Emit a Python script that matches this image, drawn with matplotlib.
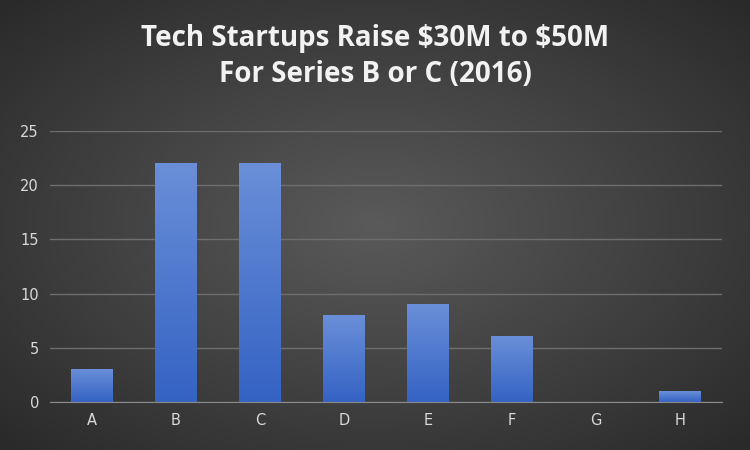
import numpy as np
import matplotlib
matplotlib.use("Agg")
import matplotlib.pyplot as plt
from matplotlib.colors import LinearSegmentedColormap

categories = ["A", "B", "C", "D", "E", "F", "G", "H"]
values = [3, 22, 22, 8, 9, 6, 0, 1]
yticks = [0, 5, 10, 15, 20, 25]
title = "Tech Startups Raise \\$30M to \\$50M\nFor Series B or C (2016)"

fig = plt.figure(figsize=(7.5, 4.5), dpi=100)
bg = fig.add_axes([0, 0, 1, 1])
yy, xx = np.mgrid[-1:1:300j, -1:1:500j]
r = np.sqrt(xx**2 + yy**2)
bgcmap = LinearSegmentedColormap.from_list("bg", ["#5a5a5a", "#2a2a2a"])
bg.imshow(r, cmap=bgcmap, aspect="auto", extent=[0, 1, 0, 1], vmin=0, vmax=1.4)
bg.axis("off")

ax = fig.add_axes([50/750, 48/450, 672/750, 271/450])
ax.set_facecolor("none")
x = np.arange(len(categories))
bars = ax.bar(x, values, width=0.5, color="#4a76d0")
barcmap = LinearSegmentedColormap.from_list("bar", ["#3563c4", "#6a8fd8"])
grad = np.linspace(0, 1, 100).reshape(-1, 1)
for b in bars:
    h = b.get_height()
    if h <= 0:
        continue
    x0 = b.get_x()
    ax.imshow(grad, cmap=barcmap, origin="lower", aspect="auto",
              extent=[x0, x0 + b.get_width(), 0, h], zorder=2)
    b.set_visible(False)
ax.set_xlim(-0.5, len(categories) - 0.5)
ax.set_ylim(0, 25)
ax.set_yticks(yticks)
ax.set_xticks(x)
ax.set_xticklabels(categories)
ax.yaxis.grid(True, color="#6e6e6e", linewidth=1)
ax.set_axisbelow(True)
for s in ["top", "right", "left"]:
    ax.spines[s].set_visible(False)
ax.spines["bottom"].set_color("#8a8a8a")
ax.tick_params(colors="#d9d9d9", labelsize=10.5, length=0, pad=8)
fig.text(0.5, 0.875, title, ha="center", va="center", color="#f2f2f2",
         fontsize=20, fontweight="bold", fontfamily="Open Sans", linespacing=1.3)
fig.savefig("out.png")
